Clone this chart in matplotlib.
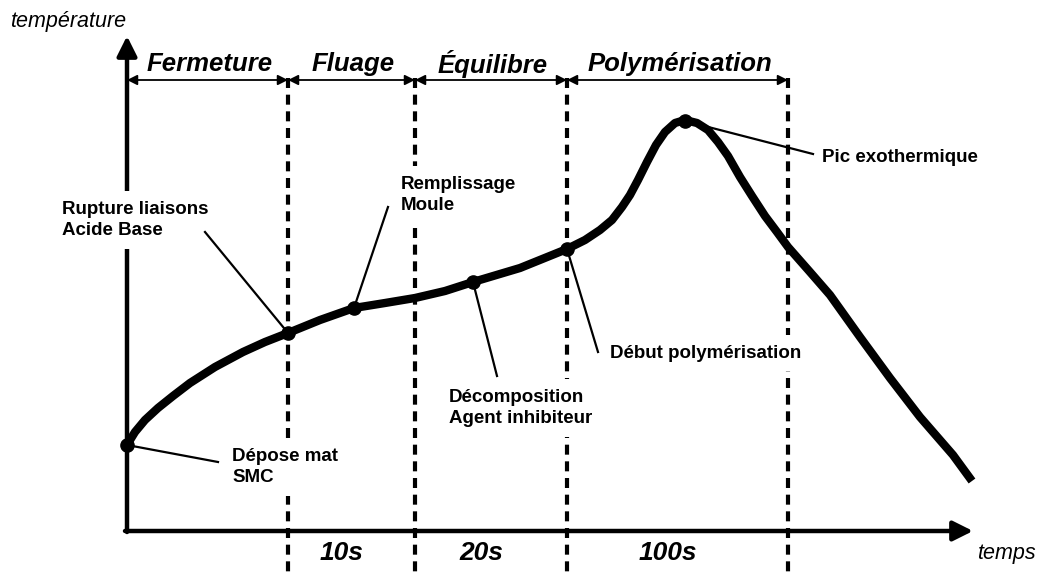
import matplotlib
matplotlib.use("Agg")
import matplotlib.pyplot as plt

plt.rcParams['font.family'] = ['Liberation Sans', 'DejaVu Sans']

# schematic drawn in picture units (x to the right, y downwards)
curve_x = [127, 135, 145, 158, 173, 190, 215, 243, 265, 288, 320, 354, 385, 415, 445,
           473, 520, 567, 585, 600, 612, 622, 630, 638, 647, 656, 665, 675, 685, 697,
           708, 718, 728, 740, 752, 765, 777, 788, 810, 830, 860, 890, 920, 953, 972]
curve_y = [445, 432, 420, 408, 396, 383, 367, 352, 342, 333, 320, 308, 303, 298, 291,
           282, 268, 249, 240, 230, 220, 207, 195, 180, 162, 145, 132, 123, 120, 123,
           130, 142, 156, 177, 196, 216, 232, 247, 272, 295, 337, 378, 417, 455, 481]

phase_bounds = [127, 288, 415, 567, 788]
phase_names = ['Fermeture', 'Fluage', 'Équilibre', 'Polymérisation']
durations = ['', '10s', '20s', '100s']

# events: (dot x, dot y, leader end x, leader end y, label, label x, label y)
events = [
    (127, 445, 218, 462, 'Dépose mat\nSMC', 232, 467),
    (288, 333, 205, 232, 'Rupture liaisons\nAcide Base', 62, 220),
    (354, 308, 388, 207, 'Remplissage\nMoule', 401, 195),
    (473, 282, 497, 376, 'Décomposition\nAgent inhibiteur', 449, 408),
    (567, 249, 598, 352, 'Début polymérisation', 610, 353),
    (685, 121, 813, 154, 'Pic exothermique', 822, 158),
]

fig = plt.figure(figsize=(10.55, 5.72), dpi=100, facecolor='white')
ax = fig.add_axes([0, 0, 1, 1])
ax.set_xlim(0, 1055)
ax.set_ylim(572, 0)
ax.axis('off')

# axes arrows
ax.annotate('', xy=(127, 36), xytext=(127, 532),
            arrowprops=dict(arrowstyle='-|>', lw=3.2, color='black',
                            mutation_scale=30, shrinkA=0, shrinkB=0), zorder=2)
ax.annotate('', xy=(973, 531), xytext=(125, 531),
            arrowprops=dict(arrowstyle='-|>', lw=3.2, color='black',
                            mutation_scale=30, shrinkA=0, shrinkB=0), zorder=2)
ax.text(10, 22, 'température', fontsize=15.5, style='italic', va='center', ha='left')
ax.text(977, 553, 'temps', fontsize=15.5, style='italic', va='center', ha='left')

# phase boundaries
for x in phase_bounds[1:]:
    ax.plot([x, x], [78, 572], color='black', lw=3, dashes=(2.4, 1.6), zorder=1)

# phase arrows and names
for i, name in enumerate(phase_names):
    x0, x1 = phase_bounds[i], phase_bounds[i + 1]
    ax.annotate('', xy=(x1, 80), xytext=(x0, 80),
                arrowprops=dict(arrowstyle='<|-|>', lw=1.3, color='black',
                                mutation_scale=15, shrinkA=0, shrinkB=0))
    ax.text((x0 + x1) / 2 + 2, 64, name, fontsize=18.5, fontweight='bold',
            style='italic', ha='center', va='center')
    if durations[i]:
        ax.text((x0 + x1) / 2 - 10, 553, durations[i], fontsize=19, fontweight='bold',
                style='italic', ha='center', va='center')

# temperature curve
ax.plot(curve_x, curve_y, color='black', lw=6, solid_capstyle='butt',
        solid_joinstyle='round', zorder=4)

# event markers with leaders (labels hide the lines behind them)
for dx, dy, lx, ly, label, tx, ty in events:
    ax.plot([dx, lx], [dy, ly], color='black', lw=1.6, zorder=7)
    ax.plot(dx, dy, 'o', color='black', ms=9.5, zorder=8)
    ax.text(tx, ty, label, fontsize=13.5, fontweight='bold', ha='left', va='center',
            linespacing=1.3, zorder=6,
            bbox=dict(facecolor='white', edgecolor='none', pad=7))

fig.savefig('out.png', dpi=100, facecolor='white')
